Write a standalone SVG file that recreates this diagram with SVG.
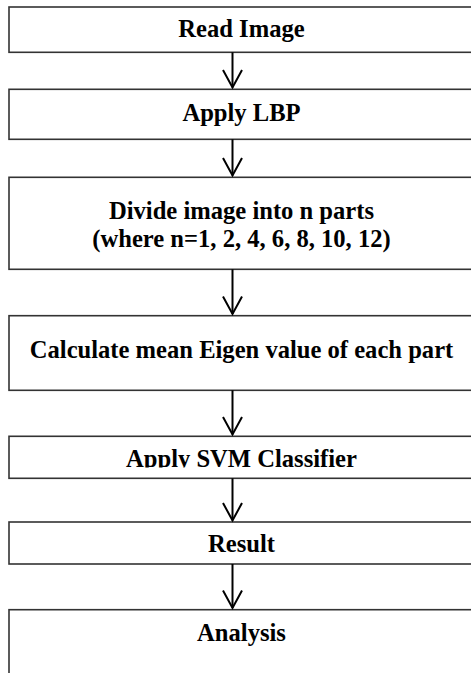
<svg xmlns="http://www.w3.org/2000/svg" width="471" height="673" viewBox="0 0 471 673">
  <style>
    .box { fill: #ffffff; stroke: #333333; stroke-width: 1.6; }
    .label { font-family: "Liberation Serif", "Times New Roman", serif; font-weight: bold; font-size: 24.6px; fill: #000000; text-anchor: middle; }
    .edge { fill: none; stroke: #000000; stroke-width: 2; }
    .head { fill: none; stroke: #000000; stroke-width: 2; stroke-linejoin: miter; }
  </style>
  <defs>
    <clipPath id="svm-clip">
      <rect x="0" y="436" width="471" height="31.5"/>
    </clipPath>
  </defs>
  <rect x="0" y="0" width="471" height="673" fill="#ffffff"/>

  <g id="read-image">
    <rect class="box" x="9" y="7" width="500" height="45.3"/>
    <text class="label" x="241.5" y="37">Read Image</text>
  </g>

  <g id="apply-lbp">
    <rect class="box" x="9" y="89.3" width="500" height="50"/>
    <text class="label" x="241.5" y="120.5">Apply LBP</text>
  </g>

  <g id="divide-image">
    <rect class="box" x="9" y="177.3" width="500" height="92"/>
    <text class="label" x="241.5" y="219">Divide image into n parts</text>
    <text class="label" x="241.5" y="247.3">(where n=1, 2, 4, 6, 8, 10, 12)</text>
  </g>

  <g id="mean-eigen">
    <rect class="box" x="9" y="315.7" width="500" height="74.6"/>
    <text class="label" x="241.5" y="358">Calculate mean Eigen value of each part</text>
  </g>

  <g id="svm-classifier">
    <rect class="box" x="9" y="436.3" width="500" height="42"/>
    <text class="label" x="241.5" y="466.5" clip-path="url(#svm-clip)">Apply SVM Classifier</text>
  </g>

  <g id="result">
    <rect class="box" x="9" y="522" width="500" height="42"/>
    <text class="label" x="241.5" y="552">Result</text>
  </g>

  <g id="analysis">
    <rect class="box" x="9" y="609.7" width="500" height="100"/>
    <text class="label" x="241.5" y="641">Analysis</text>
  </g>

  <g id="connectors">
    <line class="edge" x1="232.5" y1="52.3" x2="232.5" y2="87.5"/>
    <polyline class="head" points="223,70 232.5,87.5 242,70"/>

    <line class="edge" x1="232.5" y1="139.3" x2="232.5" y2="175.5"/>
    <polyline class="head" points="223,158 232.5,175.5 242,158"/>

    <line class="edge" x1="232.5" y1="269.3" x2="232.5" y2="314"/>
    <polyline class="head" points="223,296.5 232.5,314 242,296.5"/>

    <line class="edge" x1="232.5" y1="390.3" x2="232.5" y2="434.5"/>
    <polyline class="head" points="223,417 232.5,434.5 242,417"/>

    <line class="edge" x1="232.5" y1="478.3" x2="232.5" y2="520.5"/>
    <polyline class="head" points="223,503 232.5,520.5 242,503"/>

    <line class="edge" x1="232.5" y1="564" x2="232.5" y2="608"/>
    <polyline class="head" points="223,590.5 232.5,608 242,590.5"/>
  </g>
</svg>
